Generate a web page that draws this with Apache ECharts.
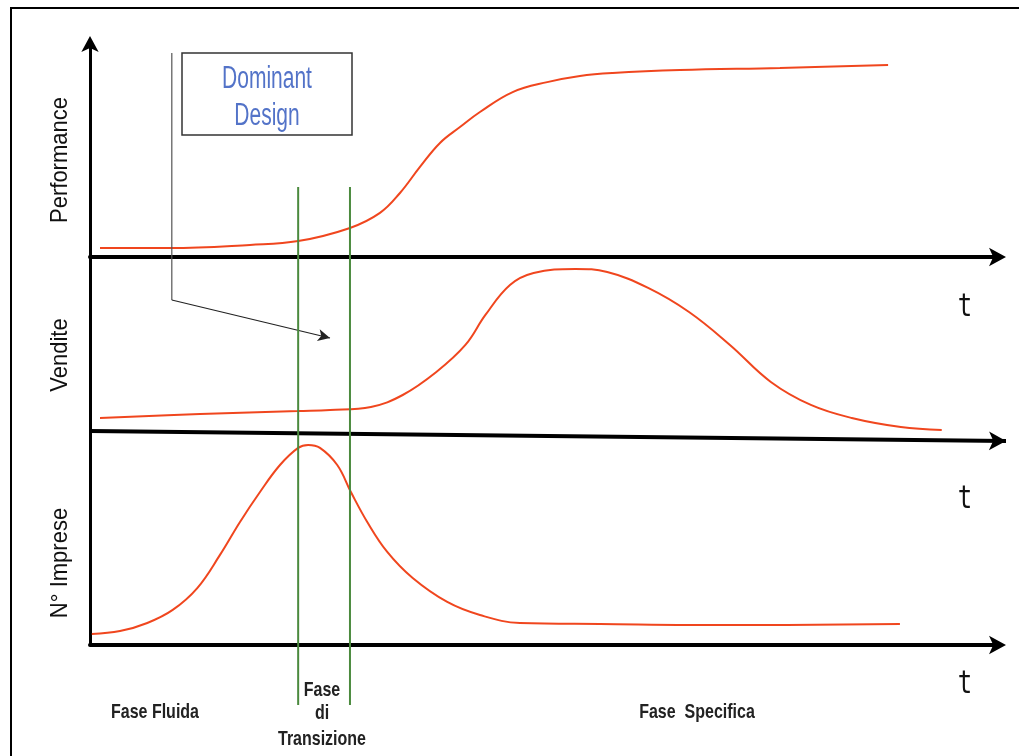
<!DOCTYPE html>
<html><head><meta charset="utf-8">
<script src="https://cdn.jsdelivr.net/npm/echarts@6/dist/echarts.min.js"></script>
<style>html,body{margin:0;padding:0;background:#fff}#c{width:1019px;height:756px}</style>
</head><body><div id="c"></div>
<script>
// ---- data (time on 0..100 scale, values on 0..100 scale per panel) ----
const perfT = [1.1, 8.8, 17.6, 22.9, 28.6, 31.9, 34.1, 36.3, 38.5, 40.7, 42.9, 46.5, 50.3, 53.9, 57.5, 64.9, 75.9, 87.8];
const perfV = [4.2, 4.2, 5.7, 7.5, 13.7, 20.8, 30.2, 42.5, 53.8, 61.3, 68.4, 77.8, 82.5, 85.4, 86.8, 88.2, 89.2, 90.6];
const salesT = [1.1, 12.1, 22.9, 26.4, 30.9, 34.4, 38.1, 41.3, 43.5, 46.2, 48.8, 53.4, 56.9, 61.4, 65.9, 70.4, 74.9, 79.3, 83.8, 89.2, 93.7];
const salesV = [12.5, 14.7, 16.3, 16.8, 18.5, 25.0, 37.5, 52.2, 68.5, 84.8, 91.3, 93.5, 91.8, 83.2, 70.1, 52.2, 32.1, 19.6, 12.5, 7.6, 6.0];
const firmsT = [0.2, 3.3, 6.3, 9.1, 11.8, 14.3, 16.5, 18.7, 20.9, 22.9, 24.0, 25.3, 27.2, 28.7, 30.5, 32.7, 35.5, 39.3, 42.9, 47.3, 56.1, 70.7, 89.1];
const firmsV = [5.1, 6.5, 10.3, 16.4, 26.6, 42.1, 57.5, 71.5, 84.1, 92.1, 93.5, 92.1, 84.1, 71.5, 57.5, 43.5, 31.3, 20.1, 14.0, 10.3, 9.8, 9.3, 9.8];
const phaseBounds = [22.9, 28.6];          // Fase di Transizione boundaries (t)
const pointerT = [9.0, 26.4];               // Dominant Design pointer (t)
const axisTitles = ['Performance', 'Vendite', 'N° Imprese'];
const phaseLabels = ['Fase Fluida', 'Fase', 'di', 'Transizione', 'Fase  Specifica'];
const boxLines = ['Dominant', 'Design'];
const timeLabel = 't';

const zip = (a, b) => a.map((v, i) => [v, b[i]]);
const RED = '#f0461e', GREEN = '#4b8a3e';
const T_END = 100.77; // time-axis extent incl. arrow room

const chart = echarts.init(document.getElementById('c'), null, {renderer: 'canvas'});
const xAx = (gi, arrow, max) => ({
  type: 'value', gridIndex: gi, min: 0, max: max,
  axisLine: {show: arrow, onZero: false, symbol: ['none', 'arrow'], symbolSize: [14, 17], symbolOffset: [0, 7],
    lineStyle: {color: '#000', width: 4}},
  axisTick: {show: false}, axisLabel: {show: false}, splitLine: {show: false}
});
const yAx = (gi, arrow) => ({
  type: 'value', gridIndex: gi, min: 0, max: 100,
  axisLine: {show: true, onZero: false, symbol: arrow ? ['none', 'arrow'] : 'none', symbolSize: [13, 16], symbolOffset: [0, 9],
    lineStyle: {color: '#000', width: 3}},
  axisTick: {show: false}, axisLabel: {show: false}, splitLine: {show: false}
});
const lineSeries = (gi, t, v, extra) => Object.assign({
  type: 'line', xAxisIndex: gi, yAxisIndex: gi, data: zip(t, v), smooth: 0.4,
  showSymbol: false, symbol: 'none', lineStyle: {color: RED, width: 2}, z: 3, silent: true
}, extra || {});

const txt = (text, x, y, font, fill, opts) => Object.assign({
  type: 'text', x: x, y: y, z: 50,
  style: {text: text, font: font, fill: fill, textAlign: 'center', textVerticalAlign: 'middle'}
}, opts || {});

const option = {
  animation: false,
  backgroundColor: '#fff',
  grid: [
    {left: 90, right: 20, top: 45, height: 212},
    {left: 90, right: 13, top: 257, height: 184},
    {left: 90, right: 20, top: 431, height: 214},
    {left: 90, right: 20, top: 0, height: 756}
  ],
  xAxis: [xAx(0, true, 100), xAx(1, false, T_END), xAx(2, true, 100),
    {type: 'value', gridIndex: 3, min: 0, max: 100, show: false}],
  yAxis: [yAx(0, true), yAx(1, false), yAx(2, false),
    {type: 'value', gridIndex: 3, min: 0, max: 756, inverse: true, show: false}],
  series: [
    lineSeries(0, perfT, perfV),
    lineSeries(1, salesT, salesV, {
      markLine: {silent: true, symbol: ['none', 'arrow'], symbolSize: [14, 17], label: {show: false},
        lineStyle: {color: '#000', width: 4, type: 'solid'},
        data: [[{coord: [0, 5.4]}, {coord: [T_END, 0]}]]}
    }),
    lineSeries(2, firmsT, firmsV),
    {type: 'line', xAxisIndex: 3, yAxisIndex: 3, data: [[phaseBounds[0], 187], [phaseBounds[0], 705]],
      showSymbol: false, symbol: 'none', lineStyle: {color: GREEN, width: 2}, z: 5, silent: true},
    {type: 'line', xAxisIndex: 3, yAxisIndex: 3, data: [[phaseBounds[1], 187], [phaseBounds[1], 705]],
      showSymbol: false, symbol: 'none', lineStyle: {color: GREEN, width: 2}, z: 5, silent: true},
    {type: 'line', xAxisIndex: 3, yAxisIndex: 3, data: [[pointerT[0], 53], [pointerT[0], 300]],
      showSymbol: false, symbol: 'none', lineStyle: {color: '#555', width: 1.2}, z: 4, silent: true,
      markLine: {silent: true, symbol: ['none', 'arrow'], symbolSize: [9, 12], label: {show: false},
        lineStyle: {color: '#222', width: 1.2, type: 'solid'},
        data: [[{coord: [pointerT[0], 300]}, {coord: [pointerT[1], 338]}]]}}
  ],
  graphic: [
    {type: 'rect', z: 0, shape: {x: 11, y: 8, width: 1040, height: 800}, style: {fill: 'none', stroke: '#000', lineWidth: 2}},
    {type: 'rect', z: 40, shape: {x: 182, y: 53, width: 170, height: 82}, style: {fill: '#fff', stroke: '#333', lineWidth: 1.5}},
    txt(boxLines[0], 267, 80, '21px "Liberation Sans", Arial', '#5373c8', {scaleY: 1.45}),
    txt(boxLines[1], 267, 117, '21px "Liberation Sans", Arial', '#5373c8', {scaleY: 1.45}),
    txt(axisTitles[0], 60, 160, '22px "Liberation Sans", Arial', '#111', {rotation: Math.PI / 2, scaleY: 1.12}),
    txt(axisTitles[1], 60, 355, '22px "Liberation Sans", Arial', '#111', {rotation: Math.PI / 2, scaleY: 1.12}),
    txt(axisTitles[2], 60, 563, '22px "Liberation Sans", Arial', '#111', {rotation: Math.PI / 2, scaleY: 1.12}),
    txt(timeLabel, 965, 308, '24px "DejaVu Sans Mono", monospace', '#111', {scaleY: 1.3}),
    txt(timeLabel, 965, 500, '24px "DejaVu Sans Mono", monospace', '#111', {scaleY: 1.3}),
    txt(timeLabel, 965, 685, '24px "DejaVu Sans Mono", monospace', '#111', {scaleY: 1.3}),
    txt(phaseLabels[0], 155, 712, 'bold 16px "Liberation Sans", Arial', '#222', {scaleY: 1.3}),
    txt(phaseLabels[1], 322, 690, 'bold 16px "Liberation Sans", Arial', '#222', {scaleY: 1.3}),
    txt(phaseLabels[2], 322, 713, 'bold 16px "Liberation Sans", Arial', '#222', {scaleY: 1.3}),
    txt(phaseLabels[3], 322, 739, 'bold 16px "Liberation Sans", Arial', '#222', {scaleY: 1.3}),
    txt(phaseLabels[4], 697, 712, 'bold 16px "Liberation Sans", Arial', '#222', {scaleY: 1.3})
  ]
};
chart.setOption(option);
</script></body></html>
